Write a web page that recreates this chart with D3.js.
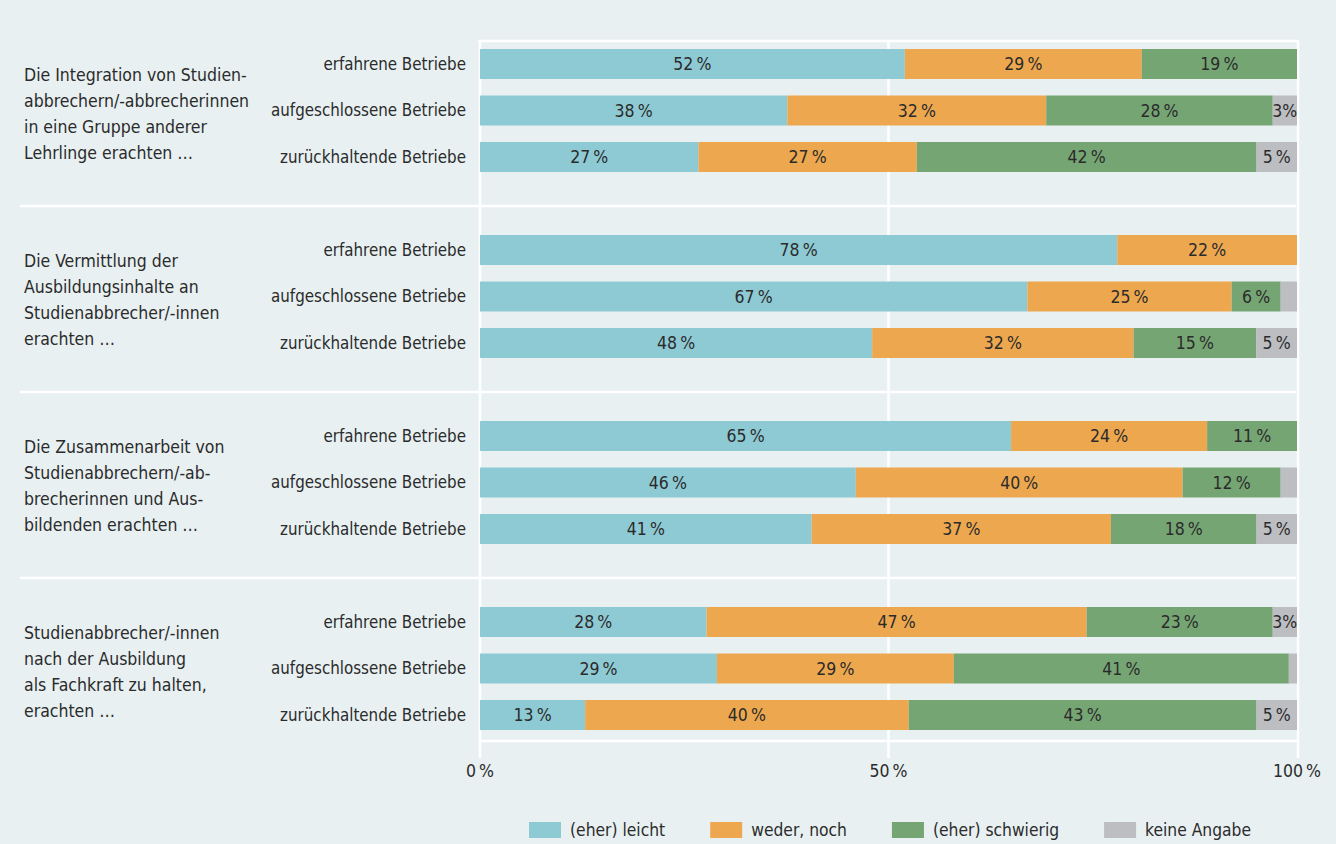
<!DOCTYPE html>
<html>
<head>
<meta charset="utf-8">
<script src="https://cdn.jsdelivr.net/npm/d3@7"></script>
<style>
  body { margin: 0; background: #e8f0f2; }
  svg { display: block; }
  text { font-family: "Liberation Sans Narrow", "DejaVu Sans Condensed", sans-serif; fill: #2b2b2b; }
</style>
</head>
<body>
<div id="chart"></div>
<script>
// Data
var questions = [
    ['Die Integration von Studien-', 'abbrechern/-abbrecherinnen', 'in eine Gruppe anderer', 'Lehrlinge erachten …'],
    ['Die Vermittlung der', 'Ausbildungsinhalte an', 'Studienabbrecher/-innen', 'erachten …'],
    ['Die Zusammenarbeit von', 'Studienabbrechern/-ab-', 'brecherinnen und Aus-', 'bildenden erachten …'],
    ['Studienabbrecher/-innen', 'nach der Ausbildung', 'als Fachkraft zu halten,', 'erachten …']
];
var groups = ['erfahrene Betriebe', 'aufgeschlossene Betriebe', 'zurückhaltende Betriebe'];
var series = ['(eher) leicht', 'weder, noch', '(eher) schwierig', 'keine Angabe'];
var colors = ['#8ecad4', '#eda84f', '#76a574', '#bdbec2'];

// one array per answer, 12 rows (question x group)
var leicht     = [52, 38, 27,  78, 67, 48,  65, 46, 41,  28, 29, 13];
var wederNoch  = [29, 32, 27,  22, 25, 32,  24, 40, 37,  47, 29, 40];
var schwierig  = [19, 28, 42,   0,  6, 15,  11, 12, 18,  23, 41, 43];
var keineAng   = [ 0,  3,  5,   0,  2,  5,   0,  2,  5,   3,  1,  5];

var xTicks = [0, 50, 100];

var rows = [];
for (var i = 0; i < leicht.length; i++) {
    rows.push({
        q: Math.floor(i / 3),
        g: groups[i % 3],
        '(eher) leicht': leicht[i],
        'weder, noch': wederNoch[i],
        '(eher) schwierig': schwierig[i],
        'keine Angabe': keineAng[i]
    });
}

var W = 1336, H = 844;
var x0 = 480, x1 = 1297;

var svg = d3.select('#chart')
    .append('svg')
    .attr('width', W)
    .attr('height', H);

var xScale = d3.scaleLinear()
    .domain([0, 100])
    .range([x0, x1]);

// question blocks
var qScale = d3.scaleBand()
    .domain(d3.range(questions.length))
    .range([20, 20 + 186 * questions.length]);

var rowScale = d3.scaleBand()
    .domain(groups)
    .range([29, 29 + 2 * 46.5 + 30])
    .paddingInner(16.5 / 46.5)
    .paddingOuter(0);

var colorScale = d3.scaleOrdinal()
    .domain(series)
    .range(colors);

function rowY(d) {
    return qScale(d.q) + rowScale(d.g);
}

// grid: top line, bottom line, separators
svg.append('line')
    .attr('x1', x0 - 2).attr('x2', x1 + 2)
    .attr('y1', 41).attr('y2', 41)
    .attr('stroke', '#fff').attr('stroke-width', 2.5);
svg.append('line')
    .attr('x1', x0).attr('x2', x1)
    .attr('y1', 741).attr('y2', 741)
    .attr('stroke', '#fff').attr('stroke-width', 2.5);

svg.selectAll('line.sep')
    .data(d3.range(1, questions.length))
    .enter().append('line')
    .attr('class', 'sep')
    .attr('x1', 20).attr('x2', x1 - 1)
    .attr('y1', function(d) { return qScale(d); })
    .attr('y2', function(d) { return qScale(d); })
    .attr('stroke', '#fff')
    .attr('stroke-width', 2.5);

svg.selectAll('line.grid')
    .data(xTicks)
    .enter().append('line')
    .attr('class', 'grid')
    .attr('x1', function(d) { return xScale(d) + (d === 100 ? 1 : 0); })
    .attr('x2', function(d) { return xScale(d) + (d === 100 ? 1 : 0); })
    .attr('y1', 40)
    .attr('y2', 758)
    .attr('stroke', '#fff')
    .attr('stroke-width', 2.5);

// stacked bars
var stack = d3.stack()
    .keys(series)
    .offset(d3.stackOffsetExpand);
var stacked = stack(rows);

var layer = svg.selectAll('g.layer')
    .data(stacked)
    .enter().append('g')
    .attr('class', 'layer')
    .attr('fill', function(d) { return colorScale(d.key); });

layer.selectAll('rect')
    .data(function(d) { return d; })
    .enter().append('rect')
    .attr('x', function(d) { return xScale(d[0] * 100); })
    .attr('width', function(d) { return xScale(d[1] * 100) - xScale(d[0] * 100); })
    .attr('y', function(d) { return rowY(d.data); })
    .attr('height', rowScale.bandwidth());

// value labels
layer.each(function(s) {
    d3.select(this).selectAll('text')
        .data(s.filter(function(d) { return d.data[s.key] >= 3; }))
        .enter().append('text')
        .attr('x', function(d) { return xScale((d[0] + d[1]) / 2 * 100); })
        .attr('y', function(d) { return rowY(d.data) + rowScale.bandwidth() / 2; })
        .attr('dy', '0.35em')
        .attr('text-anchor', 'middle')
        .attr('font-size', 17.5)
        .attr('fill', '#2b2b2b')
        .text(function(d) {
            var v = d.data[s.key];
            return v < 5 ? v + '%' : v + '\u2009%';
        });
});

// row labels
svg.selectAll('text.rowlab')
    .data(rows)
    .enter().append('text')
    .attr('class', 'rowlab')
    .attr('x', 466)
    .attr('y', function(d) { return rowY(d) + rowScale.bandwidth() / 2; })
    .attr('dy', '0.35em')
    .attr('text-anchor', 'end')
    .attr('font-size', 16.8)
    .text(function(d) { return d.g; });

// question text
var qText = svg.selectAll('text.q')
    .data(questions)
    .enter().append('text')
    .attr('class', 'q')
    .attr('font-size', 17.5)
    .attr('transform', function(d, i) { return 'translate(24,' + (qScale(i) + 55) + ')'; });

qText.selectAll('tspan')
    .data(function(d) { return d; })
    .enter().append('tspan')
    .attr('x', 0)
    .attr('y', function(d, i) { return i * 26; })
    .attr('dy', '0.35em')
    .text(function(d) { return d; });

// x axis labels
svg.selectAll('text.tick')
    .data(xTicks)
    .enter().append('text')
    .attr('class', 'tick')
    .attr('x', function(d) { return xScale(d); })
    .attr('y', 771)
    .attr('dy', '0.35em')
    .attr('text-anchor', 'middle')
    .attr('font-size', 17.5)
    .text(function(d) { return d + '\u2009%'; });

// legend
var legend = svg.append('g')
    .attr('transform', 'translate(529,830)');
var lx = 0;
series.forEach(function(s) {
    legend.append('rect')
        .attr('x', lx)
        .attr('y', -8)
        .attr('width', 32)
        .attr('height', 16)
        .attr('fill', colorScale(s));
    var t = legend.append('text')
        .attr('x', lx + 41)
        .attr('dy', '0.35em')
        .attr('font-size', 17.3)
        .text(s);
    lx += 41 + t.node().getComputedTextLength() + 45;
});
</script>
</body>
</html>
